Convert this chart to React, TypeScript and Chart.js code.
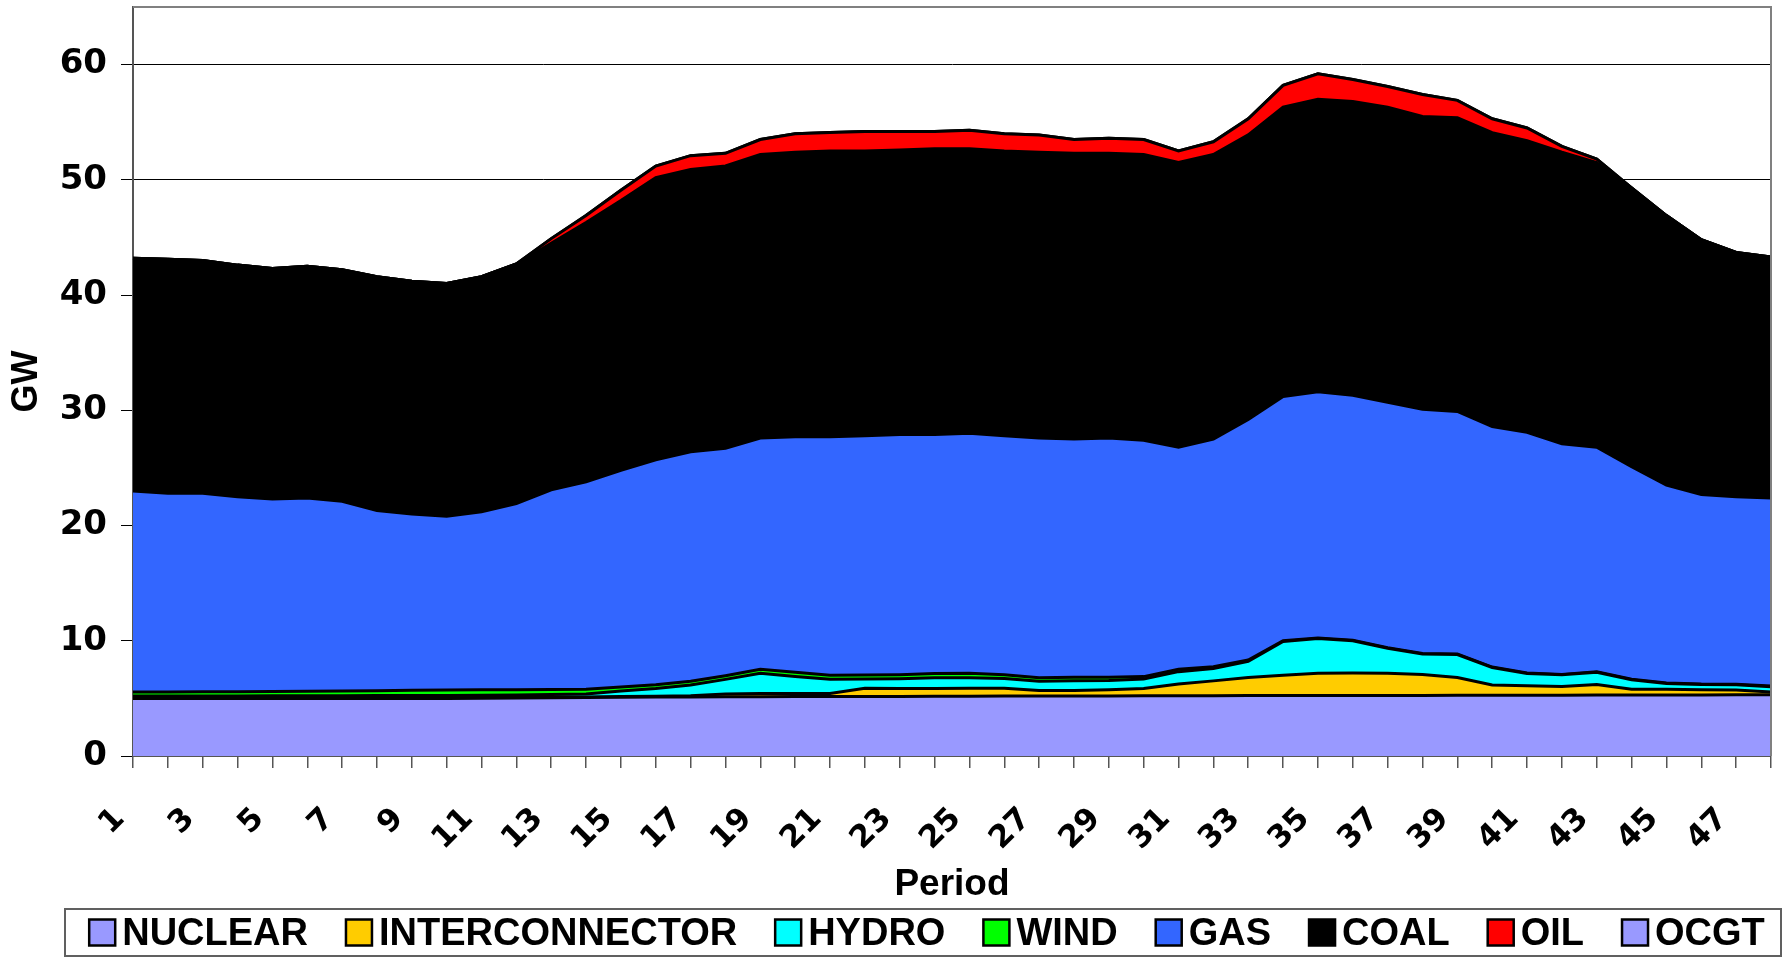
import React, { useEffect, useRef } from 'react';
import { Chart, registerables } from 'chart.js';

Chart.register(...registerables);

const periods = ['1','2','3','4','5','6','7','8','9','10','11','12','13','14','15','16','17','18','19','20','21','22','23','24','25','26','27','28','29','30','31','32','33','34','35','36','37','38','39','40','41','42','43','44','45','46','47','48'];

const nuclear = [5.0,5.0,4.99,4.99,4.99,4.99,4.99,4.99,5.0,5.0,5.02,5.03,
  5.05,5.07,5.1,5.12,5.13,5.14,5.15,5.16,5.16,5.17,5.17,5.18,
  5.19,5.2,5.2,5.21,5.21,5.22,5.22,5.23,5.24,5.24,5.25,5.25,
  5.26,5.26,5.27,5.27,5.28,5.28,5.29,5.29,5.3,5.3,5.31,5.32];

const interconnector = [0.05,0.05,0.05,0.05,0.05,0.05,0.05,0.05,0.05,0.05,0.05,0.05,
  0.06,0.06,0.06,0.06,0.09,0.23,0.28,0.27,0.27,0.71,0.69,0.68,
  0.69,0.68,0.48,0.47,0.53,0.63,1.03,1.29,1.58,1.76,1.93,1.95,
  1.92,1.82,1.55,0.89,0.82,0.76,0.91,0.51,0.5,0.45,0.41,0.23];

const hydro = [0.15,0.16,0.17,0.17,0.18,0.18,0.19,0.2,0.2,0.21,0.21,0.21,
  0.22,0.25,0.48,0.68,0.94,1.28,1.75,1.46,1.23,0.8,0.85,0.94,
  0.92,0.84,0.8,0.85,0.81,0.83,1.07,1.08,1.39,2.94,3.02,2.8,
  2.17,1.77,1.98,1.52,1.06,1.01,1.06,0.81,0.49,0.45,0.46,0.47];

const wind = [0.35,0.35,0.36,0.37,0.38,0.4,0.42,0.43,0.45,0.46,0.47,0.47,
  0.45,0.42,0.35,0.33,0.32,0.32,0.34,0.37,0.34,0.35,0.35,0.35,
  0.38,0.34,0.32,0.3,0.28,0.21,0.2,0.14,0.12,0.06,0.05,0.05,
  0.05,0.05,0.05,0.04,0.04,0.03,0.04,0.05,0.05,0.05,0.05,0.06];

const gas = [17.45,17.24,17.23,16.92,16.7,16.78,16.45,15.63,15.3,15.08,15.45,16.14,
  17.32,18.0,18.81,19.51,19.92,19.73,20.08,20.44,20.7,20.77,20.84,20.75,
  20.82,20.74,20.8,20.67,20.77,20.51,19.28,19.76,20.87,21.2,21.35,21.25,
  21.3,21.2,21.05,20.88,20.9,20.02,19.5,18.44,17.16,16.45,16.27,16.32];

const coal = [20.2,20.3,20.2,20.1,20.0,20.1,20.1,20.3,20.2,20.2,20.4,20.8,
  21.4,22.5,23.4,24.5,24.5,24.5,24.6,24.7,24.8,24.7,24.7,24.8,
  24.7,24.7,24.8,24.8,24.7,24.8,24.7,24.7,24.7,25.1,25.4,25.5,
  25.6,25.4,25.5,25.5,25.3,25.3,24.7,24.2,23.4,22.1,21.2,20.9];

const oil = [0,0,0,0,0,0,0,0,0,0,0,0,
  0.4,0.6,0.9,1.0,1.2,1.1,1.3,1.6,1.6,1.7,1.6,1.5,
  1.6,1.5,1.5,1.2,1.3,1.3,1.0,1.1,1.4,1.9,2.2,1.9,
  1.8,1.9,1.5,1.2,1.1,0.5,0.3,0,0,0,0,0];

const ocgt = [0,0,0,0,0,0,0,0,0,0,0,0,
  0,0,0,0,0,0,0,0,0,0,0,0,
  0,0,0,0,0,0,0,0,0,0,0,0,
  0,0,0,0,0,0,0,0,0,0,0,0];

const seriesNames = ['NUCLEAR','INTERCONNECTOR','HYDRO','WIND','GAS','COAL','OIL','OCGT'];
const seriesColors = ['#9999FF','#FFCC00','#00FFFF','#00FF00','#3366FF','#000000','#FF0000','#9999FF'];
const seriesValues = [nuclear, interconnector, hydro, wind, gas, coal, oil, ocgt];
const yTicks = [0,10,20,30,40,50,60];

const W = 1788;
const H = 959;

const framePlugin = {
  id: 'frameAndLegend',
  afterDraw(chart: any) {
    const { ctx, chartArea: a } = chart;
    ctx.save();
    ctx.strokeStyle = '#808080';
    ctx.lineWidth = 2;
    ctx.beginPath();
    ctx.moveTo(a.left, a.top);
    ctx.lineTo(a.right, a.top);
    ctx.lineTo(a.right, a.bottom);
    ctx.stroke();

    const boxL = 65, boxR = 1781, boxT = 909, boxB = 956;
    ctx.strokeStyle = '#606060';
    ctx.lineWidth = 2;
    ctx.strokeRect(boxL, boxT, boxR - boxL, boxB - boxT);
    ctx.font = 'bold 38px "Liberation Sans", Arial, sans-serif';
    const sw = 26, gapText = 7, gapItem = 38;
    const widths = chart.data.datasets.map((d: any) => ctx.measureText(d.label).width);
    let total = 0;
    widths.forEach((tw: number) => { total += sw + gapText + tw; });
    total += gapItem * (widths.length - 1);
    let x = (boxL + boxR) / 2 - total / 2 + 4;
    const cy = (boxT + boxB) / 2;
    chart.data.datasets.forEach((d: any, i: number) => {
      ctx.fillStyle = d.backgroundColor;
      ctx.fillRect(x, cy - sw / 2, sw, sw);
      ctx.strokeStyle = '#000';
      ctx.lineWidth = 2.5;
      ctx.strokeRect(x, cy - sw / 2, sw, sw);
      ctx.fillStyle = '#000';
      ctx.textBaseline = 'middle';
      ctx.textAlign = 'left';
      ctx.fillText(d.label, x + sw + gapText, cy + 2);
      x += sw + gapText + widths[i] + gapItem;
    });
    ctx.restore();
  },
};

export default function App() {
  const ref = useRef<HTMLCanvasElement>(null);

  useEffect(() => {
    if (!ref.current) return;
    const datasets = seriesNames.map((name, i) => ({
      label: name,
      data: seriesValues[i],
      backgroundColor: seriesColors[i],
      borderColor: '#000000',
      borderWidth: 3,
      pointRadius: 0,
      pointHoverRadius: 0,
      tension: 0,
      fill: i === 0 ? 'origin' : '-1',
    }));

    const chart = new Chart(ref.current, {
      type: 'line',
      data: { labels: periods, datasets },
      plugins: [framePlugin],
      options: {
        responsive: false,
        animation: false,
        devicePixelRatio: 1,
        layout: { padding: { left: 0, right: 17, top: 7, bottom: 50 } },
        plugins: {
          legend: { display: false },
          tooltip: { enabled: false },
        },
        elements: { line: { borderJoinStyle: 'miter' } },
        scales: {
          x: {
            type: 'category',
            offset: false,
            afterFit: (s: any) => {
              s.height = 153;
              s.paddingLeft = 0;
              s.paddingRight = 0;
            },
            grid: {
              drawOnChartArea: false,
              drawTicks: true,
              tickLength: 12,
              color: '#555',
              lineWidth: 1.5,
            },
            border: { display: true, color: '#555', width: 2 },
            ticks: {
              autoSkip: false,
              maxRotation: 45,
              minRotation: 45,
              padding: 33,
              labelOffset: -13,
              color: '#000',
              font: { family: '"DejaVu Sans", sans-serif', weight: 'bold', size: 31 },
              callback: (_v: any, idx: number) => (idx % 2 === 0 ? periods[idx] : ''),
            },
            title: {
              display: true,
              text: 'Period',
              color: '#000',
              font: { family: '"Liberation Sans", Arial, sans-serif', weight: 'bold', size: 37, lineHeight: 1 },
              padding: { top: 0, bottom: 6 },
            },
          },
          y: {
            type: 'linear',
            stacked: true,
            min: 0,
            max: 65,
            afterFit: (s: any) => {
              s.width = 133;
              s.paddingTop = 0;
              s.paddingBottom = 0;
            },
            afterBuildTicks: (s: any) => { s.ticks = yTicks.map((v) => ({ value: v })); },
            grid: {
              color: '#000',
              lineWidth: 1,
              drawTicks: true,
              tickLength: 12,
            },
            border: { display: true, color: '#555', width: 2 },
            ticks: {
              padding: 14,
              color: '#000',
              font: { family: '"DejaVu Sans", sans-serif', weight: 'bold', size: 34 },
            },
            title: {
              display: true,
              text: 'GW',
              color: '#000',
              font: { family: '"Liberation Sans", Arial, sans-serif', weight: 'bold', size: 36, lineHeight: 1 },
              padding: { top: 9, bottom: 0 },
            },
          },
        },
      },
    } as any);
    return () => chart.destroy();
  }, []);

  return (
    <div style={{ position: 'absolute', left: 0, top: 0, width: W, height: H, background: '#fff' }}>
      <canvas ref={ref} width={W} height={H} style={{ display: 'block', width: W, height: H }} />
    </div>
  );
}
